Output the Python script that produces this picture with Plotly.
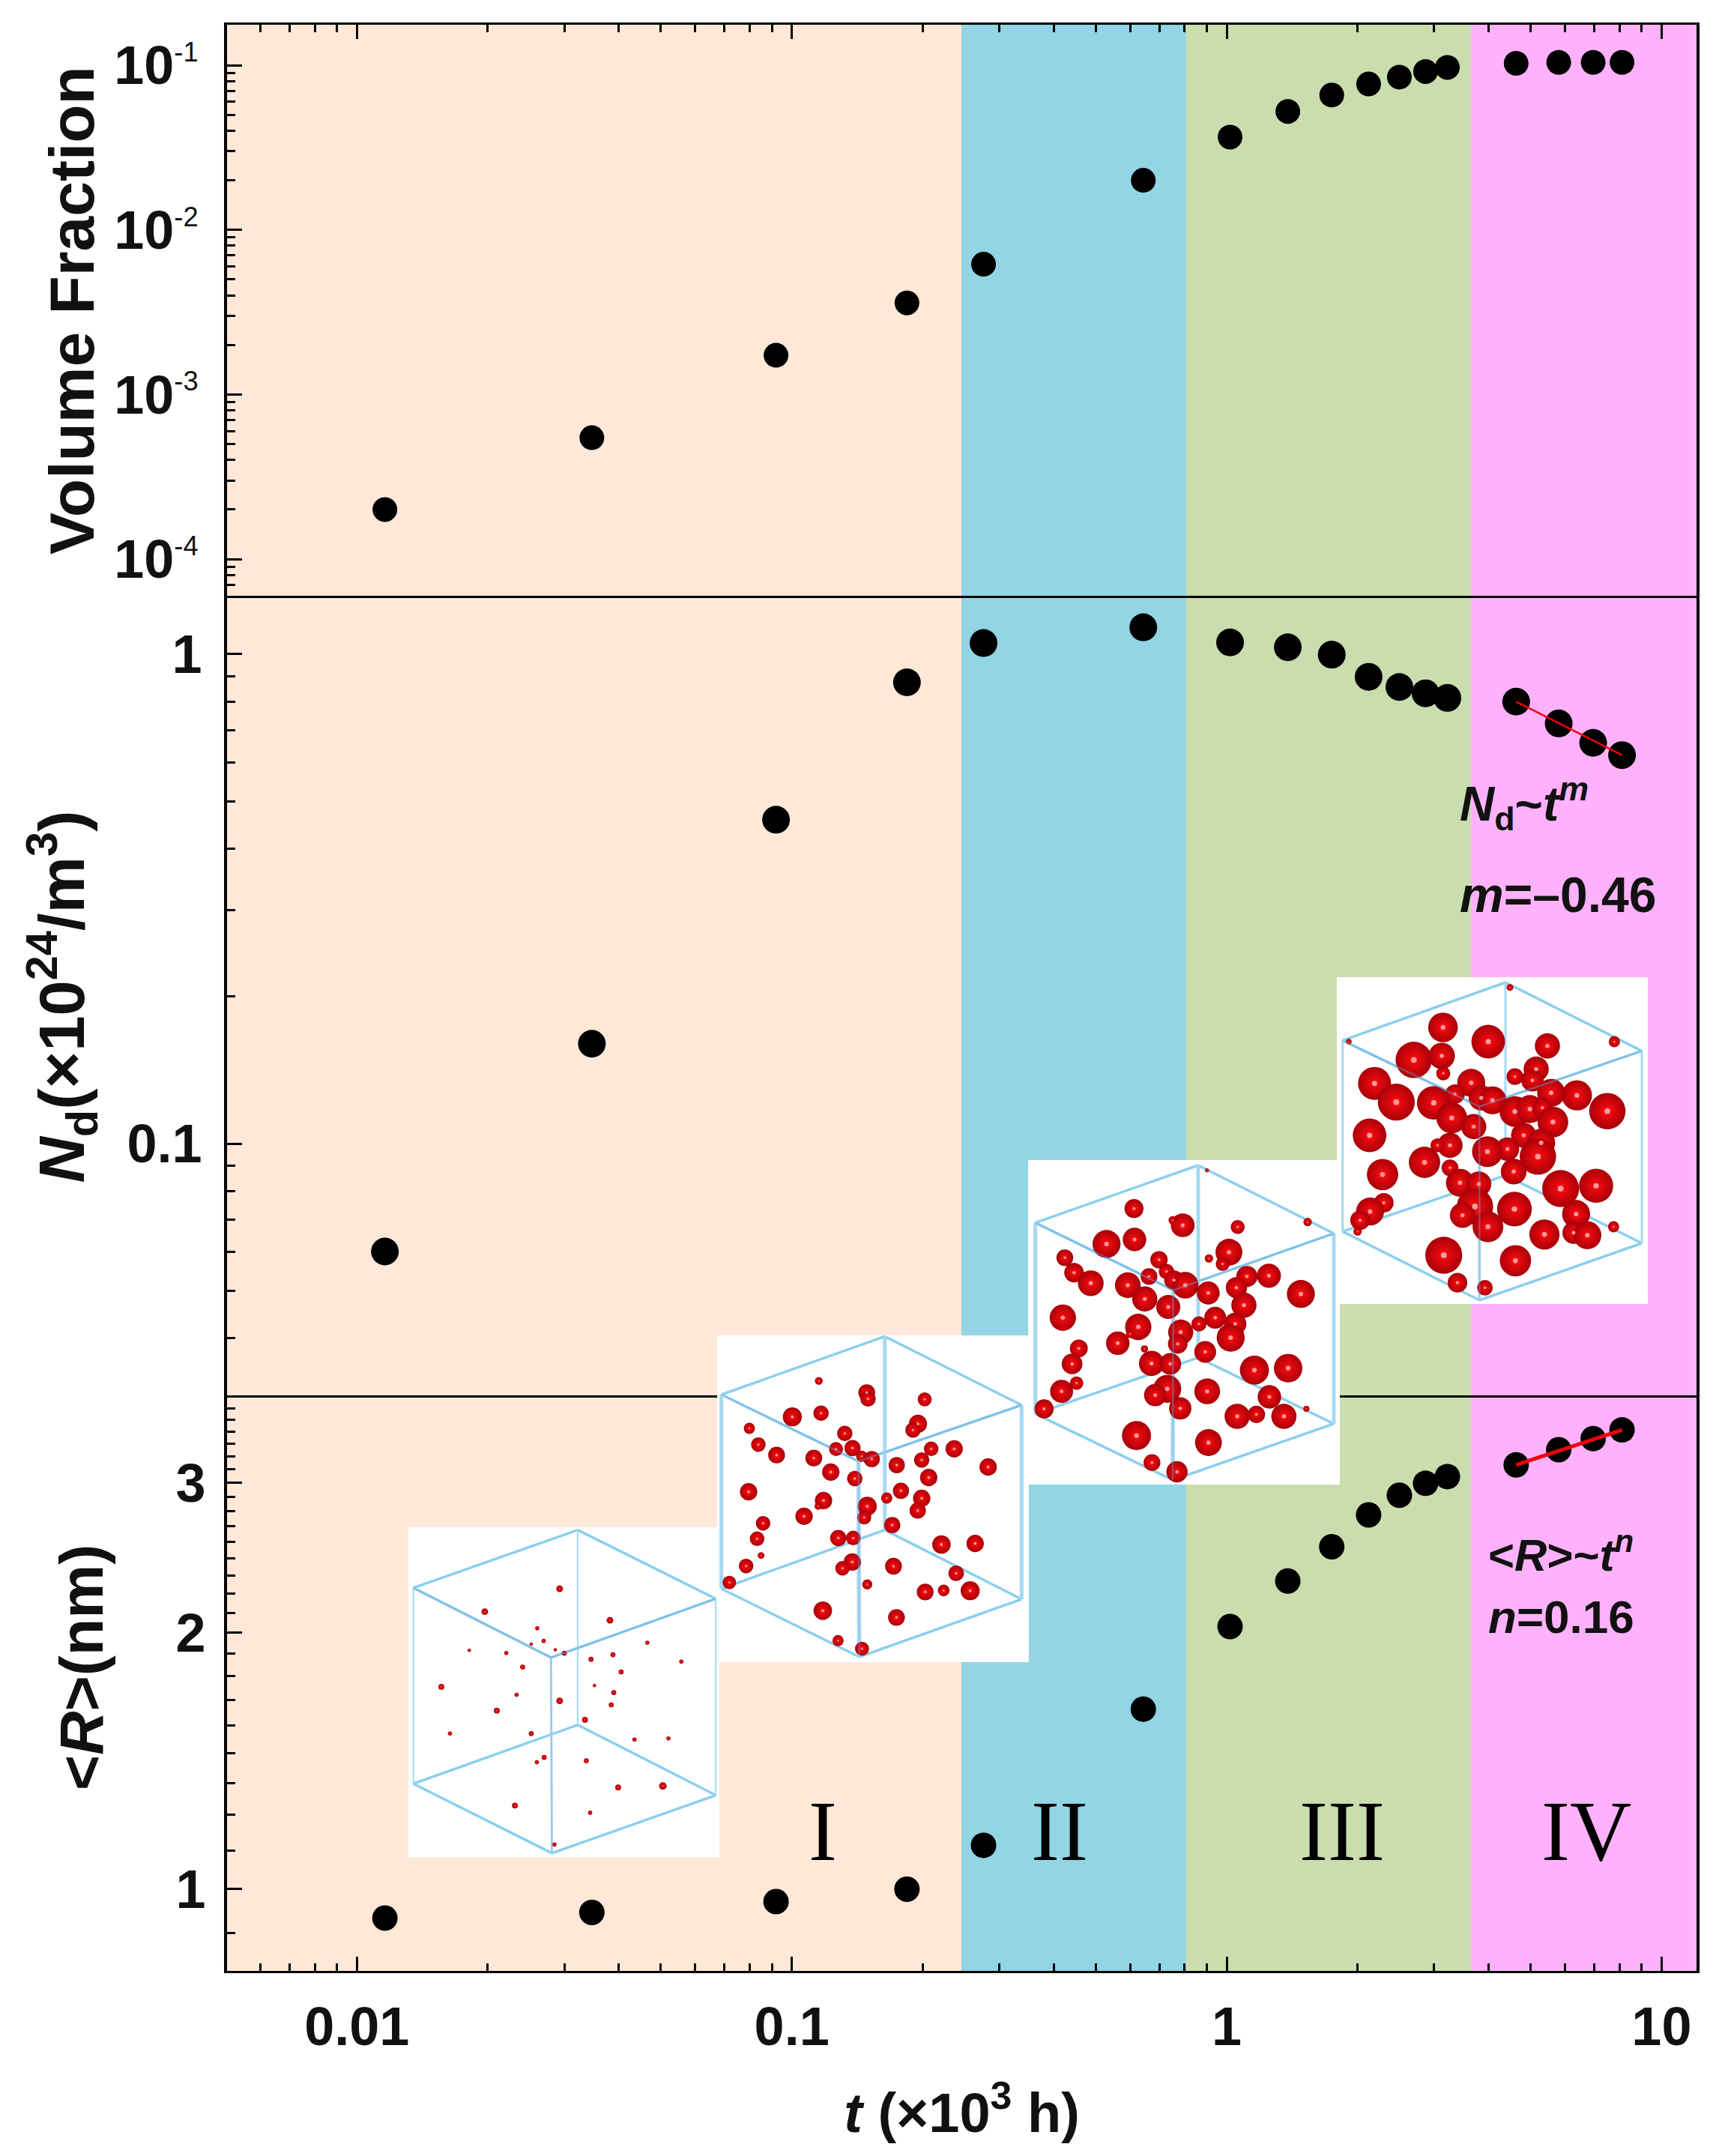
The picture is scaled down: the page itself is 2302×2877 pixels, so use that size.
import plotly.graph_objects as go

# time (x10^3 h)
t = [0.0116, 0.0347, 0.092, 0.184, 0.276, 0.643, 1.018, 1.382, 1.744, 2.12, 2.495, 2.866, 3.217, 4.63, 5.8, 6.96, 8.11]
volume_fraction = [2.0e-4, 5.46e-4, 1.73e-3, 3.6e-3, 6.18e-3, 0.02, 0.0366, 0.0524, 0.0659, 0.0769, 0.0847, 0.0916, 0.097, 0.1027, 0.104, 0.104, 0.104]
nd = [0.0602, 0.16, 0.459, 0.876, 1.054, 1.135, 1.057, 1.033, 0.998, 0.899, 0.857, 0.832, 0.814, 0.80, 0.722, 0.659, 0.622]
radius = [0.925, 0.939, 0.967, 1.0, 1.126, 1.627, 2.034, 2.30, 2.523, 2.75, 2.90, 2.995, 3.05, 3.148, 3.28, 3.38, 3.46]

fit_t = [4.63, 8.11]
fit_nd = [0.80, 0.622]
fit_r = [3.148, 3.46]

stage_edges = [0.00503, 0.2455, 0.807, 3.644, 12.03]
stage_colors = ["#FFE8D8", "#92D5E4", "#CADDAE", "#FFB2FB"]
stage_names = ["I", "II", "III", "IV"]
stage_x = [1098, 1414, 1791, 2117]

x_major = [0.01, 0.1, 1, 10]
x_major_text = ["0.01", "0.1", "1", "10"]
x_minor = [0.006, 0.007, 0.008, 0.009, 0.02, 0.03, 0.04, 0.05, 0.06, 0.07, 0.08, 0.09,
           0.2, 0.3, 0.4, 0.5, 0.6, 0.7, 0.8, 0.9, 2, 3, 4, 5, 6, 7, 8, 9]

vf_major = [1e-4, 1e-3, 1e-2, 1e-1]
vf_exponents = ["-4", "-3", "-2", "-1"]
vf_minor = [6e-5, 7e-5, 8e-5, 9e-5,
            2e-4, 3e-4, 4e-4, 5e-4, 6e-4, 7e-4, 8e-4, 9e-4,
            2e-3, 3e-3, 4e-3, 5e-3, 6e-3, 7e-3, 8e-3, 9e-3,
            0.02, 0.03, 0.04, 0.05, 0.06, 0.07, 0.08, 0.09]

nd_major = [0.1, 1]
nd_text = ["0.1", "1"]
nd_minor = [0.04, 0.05, 0.06, 0.07, 0.08, 0.09, 0.2, 0.3, 0.4, 0.5, 0.6, 0.7, 0.8, 0.9]

r_major = [1, 2, 3]
r_text = ["1", "2", "3"]
r_minor = [0.889, 1.111, 1.222, 1.333, 1.444, 1.556, 1.667, 1.778, 1.889,
           2.111, 2.222, 2.333, 2.444, 2.556, 2.667, 2.778, 2.889,
           3.111, 3.222, 3.333, 3.444, 3.556, 3.667]

inset1_box = [545, 2038, 960, 2478]
inset1_cube = [(472, 370), (90, 572), (793, 610), (410, 815), (472, 1050), (90, 1255), (793, 1295), (412, 1497)]
inset1_drops = [(430, 575, 8), (256, 655, 8), (547, 685, 8), (378, 713, 5), (393, 757, 5), (364, 768, 4), (220, 790, 4),
                (306, 799, 5), (420, 788, 4), (441, 800, 6), (634, 763, 5), (713, 829, 5), (503, 821, 6), (554, 805, 6),
                (344, 848, 6), (573, 865, 6), (155, 917, 7), (511, 913, 4), (330, 945, 5), (430, 966, 8), (556, 937, 6),
                (550, 980, 6), (284, 1000, 7), (489, 1032, 7), (175, 1080, 5), (364, 1080, 6), (604, 1101, 5),
                (683, 1097, 5), (394, 1163, 6), (377, 1180, 5), (492, 1175, 6), (566, 1268, 7), (670, 1263, 9),
                (326, 1331, 7), (501, 1356, 5), (418, 1467, 5)]

inset2_box = [957, 1782, 1373, 2218]
inset2_cube = [(692, 25), (38, 258), (1240, 300), (587, 525), (692, 800), (38, 1035), (1240, 1077), (590, 1308)]
inset2_drops = [(428, 203, 28), (620, 250, 60), (625, 275, 55), (852, 277, 50), (322, 347, 68), (437, 332, 55), (150, 393, 40),
                (532, 413, 55), (825, 375, 65), (805, 400, 55), (186, 458, 52), (259, 500, 60), (408, 512, 60), (497, 476, 50),
                (563, 472, 58), (600, 505, 40), (640, 516, 58), (878, 475, 52), (970, 475, 62), (740, 540, 58), (840, 520, 55),
                (1106, 548, 62), (476, 568, 62), (572, 594, 55), (868, 590, 62), (147, 647, 62), (757, 643, 58), (700, 672, 40),
                (447, 682, 62), (425, 705, 25), (840, 673, 62), (622, 705, 68), (824, 722, 58), (369, 745, 62), (610, 750, 50),
                (205, 773, 52), (722, 780, 58), (181, 835, 52), (506, 832, 58), (566, 832, 52), (197, 902, 24), (919, 858, 66),
                (1054, 854, 62), (137, 944, 52), (562, 928, 62), (523, 953, 52), (727, 945, 60), (978, 973, 56), (70, 1010, 48),
                (622, 1018, 36), (854, 1048, 60), (928, 1042, 42), (1034, 1043, 68), (444, 1123, 66), (739, 1150, 60),
                (505, 1243, 40), (601, 1275, 50)]

inset3_box = [1372, 1548, 1788, 1981]
inset3_cube = [(702, 45), (50, 275), (1245, 318), (602, 545), (702, 815), (50, 1040), (1245, 1080), (600, 1305)]
inset3_drops = [(737, 65, 14), (1140, 272, 30), (1135, 1020, 22), (445, 218, 68), (640, 285, 85), (600, 265, 30), (860, 292, 50),
                (335, 360, 100), (447, 342, 84), (168, 415, 60), (205, 475, 70), (272, 517, 92), (825, 393, 96), (745, 418, 30),
                (800, 440, 50), (545, 423, 62), (575, 470, 55), (505, 490, 60), (420, 525, 92), (488, 580, 90), (605, 505, 70),
                (650, 525, 95), (897, 490, 76), (985, 487, 86), (1113, 560, 100), (742, 556, 82), (855, 535, 76), (885, 605, 90),
                (582, 612, 86), (160, 655, 94), (770, 655, 78), (705, 680, 54), (462, 692, 94), (430, 720, 30), (632, 713, 90),
                (620, 760, 70), (850, 680, 80), (832, 735, 100), (380, 757, 84), (487, 780, 26), (224, 778, 64), (197, 840, 74),
                (730, 792, 78), (515, 838, 90), (590, 840, 78), (927, 865, 104), (1062, 857, 102), (215, 917, 48), (155, 950, 82),
                (578, 940, 100), (530, 965, 80), (738, 950, 92), (987, 972, 84), (85, 1020, 68), (630, 1018, 80), (858, 1050, 90),
                (935, 1042, 62), (1045, 1050, 90), (455, 1127, 104), (743, 1155, 96), (517, 1235, 60), (617, 1272, 76)]

inset4_box = [1784, 1304, 2199, 1740]
inset4_cube = [(702, 48), (50, 280), (1248, 322), (598, 545), (702, 820), (50, 1045), (1248, 1092), (598, 1320)]
inset4_drops = [(720, 68, 24), (1138, 285, 40), (1135, 1026, 40), (75, 285, 20), (452, 228, 106), (633, 285, 120), (870, 302, 90),
                (335, 358, 130), (447, 342, 94), (453, 412, 50), (178, 452, 118), (265, 527, 132), (825, 395, 90), (740, 425, 60),
                (810, 440, 80), (885, 490, 100), (988, 500, 108), (1110, 563, 130), (565, 450, 100), (500, 495, 70), (605, 510, 90),
                (650, 520, 100), (415, 530, 120), (487, 590, 110), (575, 625, 90), (740, 565, 110), (800, 555, 100), (850, 550, 70),
                (892, 607, 110), (158, 660, 120), (775, 660, 90), (710, 715, 84), (480, 700, 90), (430, 700, 50), (378, 768, 112),
                (630, 725, 110), (845, 690, 100), (832, 745, 130), (735, 805, 92), (210, 817, 112), (480, 790, 60), (520, 850, 100),
                (595, 855, 90), (923, 873, 132), (1065, 862, 122), (215, 930, 70), (160, 965, 100), (120, 1000, 70), (110, 1045, 30),
                (580, 945, 130), (530, 980, 90), (738, 955, 124), (632, 1026, 110), (985, 975, 100), (858, 1057, 108), (975, 1050, 80),
                (1030, 1060, 100), (455, 1140, 132), (742, 1162, 112), (510, 1250, 70), (620, 1270, 56)]

W, H = 2302, 2877
LEFT, RIGHT = 303, 2264
TOP, DIV1, DIV2, BOTTOM = 33, 795, 1865, 2630
FONT = "Liberation Sans"
TICK_SIZE = 72
INK = "#111111"
DROP_GROW = 1.12


def ydom(y0, y1):
    return [1 - y1 / H, 1 - y0 / H]


def bold(labels):
    return ["<b>%s</b>" % s for s in labels]


fig = go.Figure()

# data panels
panels = [("x", "y", volume_fraction, 33), ("x2", "y2", nd, 37), ("x3", "y3", radius, 34)]
for xa, ya, vals, msize in panels:
    fig.add_trace(go.Scatter(x=t, y=vals, xaxis=xa, yaxis=ya, mode="markers",
                             marker=dict(color="black", size=msize), showlegend=False, hoverinfo="skip"))
fig.add_trace(go.Scatter(x=fit_t, y=fit_nd, xaxis="x2", yaxis="y2", mode="lines",
                         line=dict(color="#F0000A", width=2.5), showlegend=False, hoverinfo="skip"))
fig.add_trace(go.Scatter(x=fit_t, y=fit_r, xaxis="x3", yaxis="y3", mode="lines",
                         line=dict(color="#F0000A", width=5), showlegend=False, hoverinfo="skip"))


def cube_line(path, color, width):
    fig.add_trace(go.Scatter(x=[p[0] if p else None for p in path], y=[p[1] if p else None for p in path],
                             xaxis="x4", yaxis="y4", mode="lines", line=dict(color=color, width=width),
                             showlegend=False, hoverinfo="skip"))


# insets go on a hidden page-pixel axis so they sit over all three panels
def add_inset(box, cube, drops, ox, oy, sx, sy, size_scale, post_width):
    x0, y0, x1, y1 = box
    fig.add_trace(go.Scatter(x=[x0, x1, x1, x0, x0], y=[y0, y0, y1, y1, y0], xaxis="x4", yaxis="y4",
                             mode="lines", fill="toself", fillcolor="white", line=dict(width=0),
                             showlegend=False, hoverinfo="skip"))
    T, L, R, F, B, LB, RB, FB = [(ox + u / sx, oy + v / sy) for u, v in cube]
    cube_line([T, L, None, T, R, None, B, LB, None, B, RB, None, LB, FB, None, RB, FB, None, L, F, R], "#8CCFEE", 3.5)
    cube_line([T, B, None, L, LB, None, R, RB], "#A5D9F1", post_width - 1)
    cube_line([F, FB], "#B5DFF3", post_width)
    xs = [ox + d[0] / sx for d in drops]
    ys = [oy + d[1] / sy for d in drops]
    ds = [d[2] * size_scale * DROP_GROW for d in drops]
    fig.add_trace(go.Scatter(x=xs, y=ys, xaxis="x4", yaxis="y4", mode="markers",
                             marker=dict(size=ds, color="#A80008", opacity=1, gradient=dict(type="radial", color="#FF0C10"),
                                         line=dict(width=0)),
                             showlegend=False, hoverinfo="skip"))
    fig.add_trace(go.Scatter(x=xs, y=ys, xaxis="x4", yaxis="y4", mode="markers",
                             marker=dict(size=[s * 0.16 for s in ds], color="rgba(255,170,170,0.9)", opacity=1, line=dict(width=0)),
                             showlegend=False, hoverinfo="skip"))
    cube_line([L, F, R, None, F, FB], "rgba(110,170,225,0.4)", 2.5)


add_inset(inset1_box, inset1_cube, inset1_drops, 500, 1900, 1568 / 900, 1568 / 600, 1, 3)
add_inset(inset2_box, inset2_cube, inset2_drops, 950, 1775, 3, 3, 1 / 3, 6)
add_inset(inset3_box, inset3_cube, inset3_drops, 1365, 1540, 3, 3, 1 / 3, 6)
add_inset(inset4_box, inset4_cube, inset4_drops, 1775, 1295, 3, 3, 1 / 3, 4)

# stage colour bands behind everything
shapes = []
for i, color in enumerate(stage_colors):
    shapes.append(dict(type="rect", xref="x", yref="paper", x0=stage_edges[i], x1=stage_edges[i + 1],
                       y0=1 - BOTTOM / H, y1=1 - TOP / H, fillcolor=color, line=dict(width=0), layer="below"))

annotations = []
for name, px in zip(stage_names, stage_x):
    annotations.append(dict(x=px, y=2443, xref="x4", yref="y4", text=name, showarrow=False, xanchor="center", yanchor="middle",
                            font=dict(family="Liberation Serif", size=114, color="#000000")))
notes = [(1946, 1072, "<b><i>N</i><sub>d</sub>~<i>t<sup>m</sup></i></b>", 64),
         (1946, 1194, "<b><i>m</i>=\u20130.46</b>", 66),
         (1984, 2071, "<b>&lt;<i>R</i>&gt;~<i>t<sup>n</sup></i></b>", 60),
         (1984, 2157, "<b><i>n</i>=0.16</b>", 62)]
for px, py, txt, size in notes:
    annotations.append(dict(x=px, y=py, xref="x4", yref="y4", text=txt, showarrow=False, xanchor="left", yanchor="middle",
                            font=dict(family=FONT, size=size, color=INK)))

x_common = dict(type="log", range=[-2.2985, 1.0803], domain=[LEFT / W, RIGHT / W], showgrid=False, zeroline=False,
                linecolor="black", linewidth=3, tickcolor="black", tickwidth=3)
y_common = dict(type="log", showgrid=False, zeroline=False, showline=True, linecolor="black", linewidth=4,
                mirror=True, ticks="inside", ticklen=20, tickwidth=3, tickcolor="black",
                tickfont=dict(family=FONT, size=TICK_SIZE, color=INK))
right_common = dict(type="log", showgrid=False, zeroline=False, showline=False, side="right", showticklabels=False,
                    ticks="inside", ticklen=17, tickwidth=3, tickcolor="black")


def x_minor_ticks():
    return dict(tickvals=x_minor, ticks="inside", ticklen=10, tickwidth=3, tickcolor="black", showgrid=False)


def y_minor(vals):
    return dict(tickvals=vals, ticks="inside", ticklen=11, tickwidth=3, tickcolor="black", showgrid=False)


vf_range = [-4.223, -0.754]
nd_range = [-1.519, 0.1194]
r_range = [-0.0959, 0.577]
# the exponents are lighter and smaller than the digits in the original
vf_text = ['<b>10</b><sup><span style="font-size:72%%">%s</span></sup>' % e for e in vf_exponents]

fig.update_layout(
    width=W, height=H, margin=dict(l=0, r=0, t=0, b=0), paper_bgcolor="white", plot_bgcolor="rgba(0,0,0,0)",
    showlegend=False, shapes=shapes, annotations=annotations,
    xaxis=dict(x_common, anchor="y", side="top", showline=True, mirror=True, showticklabels=False, ticks="inside", ticklen=19,
               tickvals=x_major, minor=x_minor_ticks()),
    xaxis2=dict(x_common, anchor="y2", showline=False, showticklabels=False, ticks=""),
    xaxis3=dict(x_common, anchor="y3", showline=True, mirror=True, ticks="inside", ticklen=19, tickvals=x_major, ticktext=bold(x_major_text),
                tickfont=dict(family=FONT, size=TICK_SIZE, color=INK), ticklabelstandoff=10,
                minor=x_minor_ticks(),
                title=dict(text="<b><i>t</i> (\u00d710<sup>3</sup> h)</b>", font=dict(family=FONT, size=74, color=INK), standoff=50)),
    yaxis=dict(y_common, anchor="x", domain=ydom(TOP, DIV1), range=vf_range, tickvals=vf_major, ticktext=vf_text,
               minor=y_minor(vf_minor), ticklabelstandoff=20,
               title=dict(text="<b>Volume Fraction</b>", font=dict(family=FONT, size=84, color=INK), standoff=0)),
    yaxis2=dict(y_common, anchor="x2", domain=ydom(DIV1, DIV2), range=nd_range, tickvals=nd_major, ticktext=bold(nd_text),
                minor=y_minor(nd_minor), ticklabelstandoff=15,
                title=dict(text="<b><i>N</i><sub>d</sub>(\u00d710<sup>24</sup>/m<sup>3</sup>)</b>", font=dict(family=FONT, size=85, color=INK), standoff=30)),
    yaxis3=dict(y_common, anchor="x3", domain=ydom(DIV2, BOTTOM), range=r_range, tickvals=r_major, ticktext=bold(r_text),
                minor=y_minor(r_minor), ticklabelstandoff=10,
                title=dict(text="<b>\u00a0\u00a0&lt;<i>R</i>&gt;(nm)</b>", font=dict(family=FONT, size=81, color=INK), standoff=71)),
    xaxis4=dict(domain=[0, 1], range=[0, W], anchor="y4", visible=False),
    yaxis4=dict(domain=[0, 1], range=[H, 0], anchor="x4", visible=False),
    # right-hand tick marks
    yaxis5=dict(right_common, anchor="x", overlaying="y", range=vf_range, tickvals=vf_major, minor=y_minor(vf_minor)),
    yaxis6=dict(right_common, anchor="x2", overlaying="y2", range=nd_range, tickvals=nd_major, minor=y_minor(nd_minor)),
    yaxis7=dict(right_common, anchor="x3", overlaying="y3", range=r_range, tickvals=r_major, minor=y_minor(r_minor)),
)

fig.write_html("out.html", config=dict(displayModeBar=False), post_script="document.body.style.margin='0';")
